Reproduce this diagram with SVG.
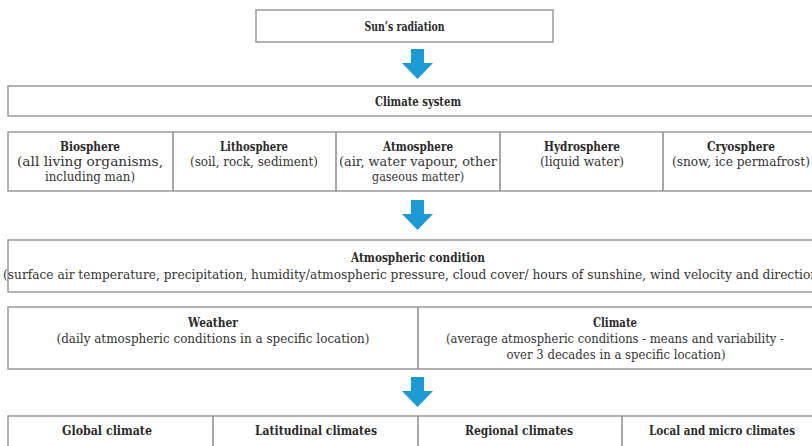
<svg xmlns="http://www.w3.org/2000/svg" xmlns:xlink="http://www.w3.org/1999/xlink" width="812" height="446" viewBox="0 0 812 446">
<style>
  .box { fill: #ffffff; stroke: #9a9a9a; stroke-width: 1.5; }
  .div { stroke: #8a8a8a; stroke-width: 1.5; }
  text { font-family: "DejaVu Serif", "Liberation Serif", serif; font-size: 12px; fill: #333333; text-anchor: middle; }
  .h { font-weight: bold; fill: #2a2a2a; }
  .arrow { fill: #1C9AD6; }
</style>
<defs>
  <path id="arr" d="M -6.5 0 H 6.5 V 14 H 15.5 L 0 30 L -15.5 14 H -6.5 Z"/>
</defs>
<rect width="812" height="446" fill="#ffffff"/>

<g id="connectors">
  <use xlink:href="#arr" class="arrow" transform="translate(417.5,49)"/>
  <use xlink:href="#arr" class="arrow" transform="translate(417.5,200)"/>
  <use xlink:href="#arr" class="arrow" transform="translate(417.5,377)"/>
</g>

<g id="sun">
  <rect class="box" x="256" y="10" width="297" height="32"/>
  <text class="h" x="404.5" y="30.5" textLength="80" lengthAdjust="spacingAndGlyphs">Sun’s radiation</text>
</g>

<g id="climate-system">
  <rect class="box" x="8" y="86" width="810" height="30"/>
  <text class="h" x="418" y="105.5" textLength="86" lengthAdjust="spacingAndGlyphs">Climate system</text>
</g>

<g id="spheres">
  <rect class="box" x="8" y="132" width="810" height="59"/>
  <line class="div" x1="173" y1="132" x2="173" y2="191"/>
  <line class="div" x1="336" y1="132" x2="336" y2="191"/>
  <line class="div" x1="500" y1="132" x2="500" y2="191"/>
  <line class="div" x1="663" y1="132" x2="663" y2="191"/>
</g>
<g id="biosphere">
  <text class="h" x="90" y="151" textLength="60" lengthAdjust="spacingAndGlyphs">Biosphere</text>
  <text x="90" y="166" textLength="146" lengthAdjust="spacingAndGlyphs">(all living organisms,</text>
  <text x="90" y="181" textLength="90" lengthAdjust="spacingAndGlyphs">including man)</text>
</g>
<g id="lithosphere">
  <text class="h" x="254" y="151" textLength="68" lengthAdjust="spacingAndGlyphs">Lithosphere</text>
  <text x="254" y="166" textLength="128" lengthAdjust="spacingAndGlyphs">(soil, rock, sediment)</text>
</g>
<g id="atmosphere">
  <text class="h" x="418" y="151" textLength="70" lengthAdjust="spacingAndGlyphs">Atmosphere</text>
  <text x="418" y="166" textLength="158" lengthAdjust="spacingAndGlyphs">(air, water vapour, other</text>
  <text x="418" y="181" textLength="92" lengthAdjust="spacingAndGlyphs">gaseous matter)</text>
</g>
<g id="hydrosphere">
  <text class="h" x="582" y="151" textLength="76" lengthAdjust="spacingAndGlyphs">Hydrosphere</text>
  <text x="582" y="166" textLength="84" lengthAdjust="spacingAndGlyphs">(liquid water)</text>
</g>
<g id="cryosphere">
  <text class="h" x="741" y="151" textLength="68" lengthAdjust="spacingAndGlyphs">Cryosphere</text>
  <text x="741" y="166" textLength="138" lengthAdjust="spacingAndGlyphs">(snow, ice permafrost)</text>
</g>

<g id="atmospheric-condition">
  <rect class="box" x="8" y="240" width="810" height="52"/>
  <text class="h" x="418" y="262" textLength="134" lengthAdjust="spacingAndGlyphs">Atmospheric condition</text>
  <text x="413" y="279" textLength="820" lengthAdjust="spacingAndGlyphs">(surface air temperature, precipitation, humidity/atmospheric pressure, cloud cover/ hours of sunshine, wind velocity and direction)</text>
</g>

<g id="weather-climate">
  <rect class="box" x="8" y="307" width="810" height="62"/>
  <line class="div" x1="418" y1="307" x2="418" y2="369"/>
</g>
<g id="weather">
  <text class="h" x="213" y="327" textLength="50" lengthAdjust="spacingAndGlyphs">Weather</text>
  <text x="213" y="343" textLength="313" lengthAdjust="spacingAndGlyphs">(daily atmospheric conditions in a specific location)</text>
</g>
<g id="climate">
  <text class="h" x="615" y="327" textLength="44" lengthAdjust="spacingAndGlyphs">Climate</text>
  <text x="615" y="343" textLength="338" lengthAdjust="spacingAndGlyphs">(average atmospheric conditions - means and variability -</text>
  <text x="616" y="359" textLength="219" lengthAdjust="spacingAndGlyphs">over 3 decades in a specific location)</text>
</g>

<g id="scales">
  <rect class="box" x="8" y="416" width="810" height="50"/>
  <line class="div" x1="213" y1="416" x2="213" y2="446"/>
  <line class="div" x1="418" y1="416" x2="418" y2="446"/>
  <line class="div" x1="622" y1="416" x2="622" y2="446"/>
</g>
<g id="global-climate"><text class="h" x="107" y="435" textLength="90" lengthAdjust="spacingAndGlyphs">Global climate</text></g>
<g id="latitudinal-climates"><text class="h" x="316" y="435" textLength="122" lengthAdjust="spacingAndGlyphs">Latitudinal climates</text></g>
<g id="regional-climates"><text class="h" x="519" y="435" textLength="108" lengthAdjust="spacingAndGlyphs">Regional climates</text></g>
<g id="local-micro-climates"><text class="h" x="722" y="435" textLength="146" lengthAdjust="spacingAndGlyphs">Local and micro climates</text></g>
</svg>
